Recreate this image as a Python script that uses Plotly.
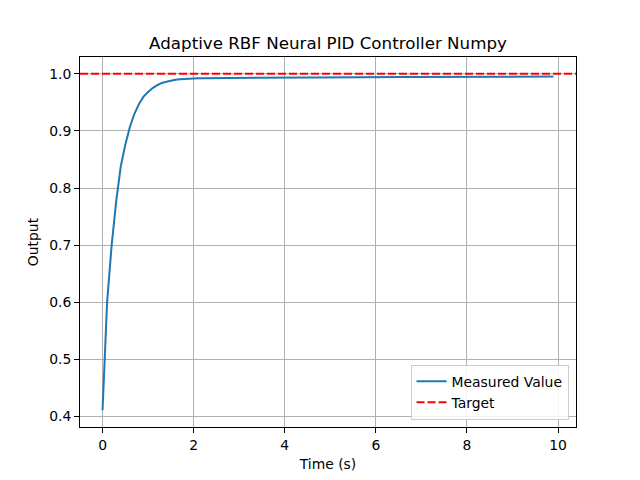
import plotly.graph_objects as go

time_s = [round(i * 0.1, 1) for i in range(100)]

measured = [
    0.411, 0.600, 0.700, 0.777, 0.838, 0.876, 0.907, 0.930, 0.947, 0.960,
    0.968, 0.975, 0.980, 0.984, 0.986, 0.988, 0.9895, 0.9903, 0.9910, 0.9915,
    0.9920, 0.9922, 0.9924, 0.9925, 0.9926, 0.9927, 0.9928, 0.9929, 0.9930, 0.9930,
    0.9931, 0.9931, 0.9932, 0.9932, 0.9933, 0.9933, 0.9934, 0.9934, 0.9934, 0.9935,
    0.9935, 0.9935, 0.9936, 0.9936, 0.9936, 0.9937, 0.9937, 0.9937, 0.9938, 0.9938,
    0.9938, 0.9939, 0.9939, 0.9939, 0.9940, 0.9940, 0.9940, 0.9941, 0.9941, 0.9941,
    0.9942, 0.9942, 0.9942, 0.9943, 0.9943, 0.9943, 0.9944, 0.9944, 0.9944, 0.9945,
    0.9945, 0.9945, 0.9946, 0.9946, 0.9946, 0.9947, 0.9947, 0.9947, 0.9948, 0.9948,
    0.9948, 0.9949, 0.9949, 0.9949, 0.9950, 0.9950, 0.9950, 0.9950, 0.9951, 0.9951,
    0.9951, 0.9951, 0.9952, 0.9952, 0.9952, 0.9952, 0.9953, 0.9953, 0.9953, 0.9953,
]
target = 1.0

x_ticks = [0, 2, 4, 6, 8, 10]
y_ticks = [0.4, 0.5, 0.6, 0.7, 0.8, 0.9, 1.0]

# matplotlib-like 5% margins
x_lo, x_hi = min(time_s), max(time_s)
xm = (x_hi - x_lo) * 0.05
y_lo, y_hi = min(min(measured), target), max(max(measured), target)
ym = (y_hi - y_lo) * 0.05

font = "DejaVu Sans, sans-serif"
fs = 13.9

fig = go.Figure()
fig.add_trace(go.Scatter(
    x=time_s, y=measured, mode="lines", name="Measured Value",
    line=dict(color="#1f77b4", width=2),
))
fig.add_hline(
    y=target, line=dict(color="red", dash="8px,3px", width=2),
    showlegend=True, name="Target", layer="above",
)

axis_common = dict(
    showline=True, linecolor="black", linewidth=1, mirror=True,
    ticks="outside", ticklen=5, tickwidth=1, tickcolor="black",
    showgrid=True, gridcolor="#b0b0b0", gridwidth=1,
    zeroline=False, tickfont=dict(family=font, size=fs, color="black"),
)

fig.update_layout(
    width=640, height=480,
    margin=dict(l=72, r=72, t=49, b=61),
    paper_bgcolor="white", plot_bgcolor="white",
    font=dict(family=font, color="black"),
    title=dict(text="Adaptive RBF Neural PID Controller Numpy",
               x=0.5, xref="paper", xanchor="center",
               y=1 - 35 / 480, yanchor="middle",
               font=dict(family=font, size=16.7, color="black")),
    xaxis=dict(range=[x_lo - xm, x_hi + xm], tickvals=x_ticks,
               title=dict(text="Time (s)", font=dict(family=font, size=fs), standoff=7),
               **axis_common),
    yaxis=dict(range=[y_lo - ym, y_hi + ym], tickvals=y_ticks, tickformat=".1f",
               title=dict(text="Output", font=dict(family=font, size=fs), standoff=7),
               **axis_common),
    legend=dict(x=0.985, y=0.02, xanchor="right", yanchor="bottom",
                bordercolor="#cccccc", borderwidth=1, bgcolor="rgba(255,255,255,0.85)",
                font=dict(family=font, size=fs, color="black"),
                tracegroupgap=0, itemwidth=30),
    showlegend=True,
)

fig.write_html("out.html")
